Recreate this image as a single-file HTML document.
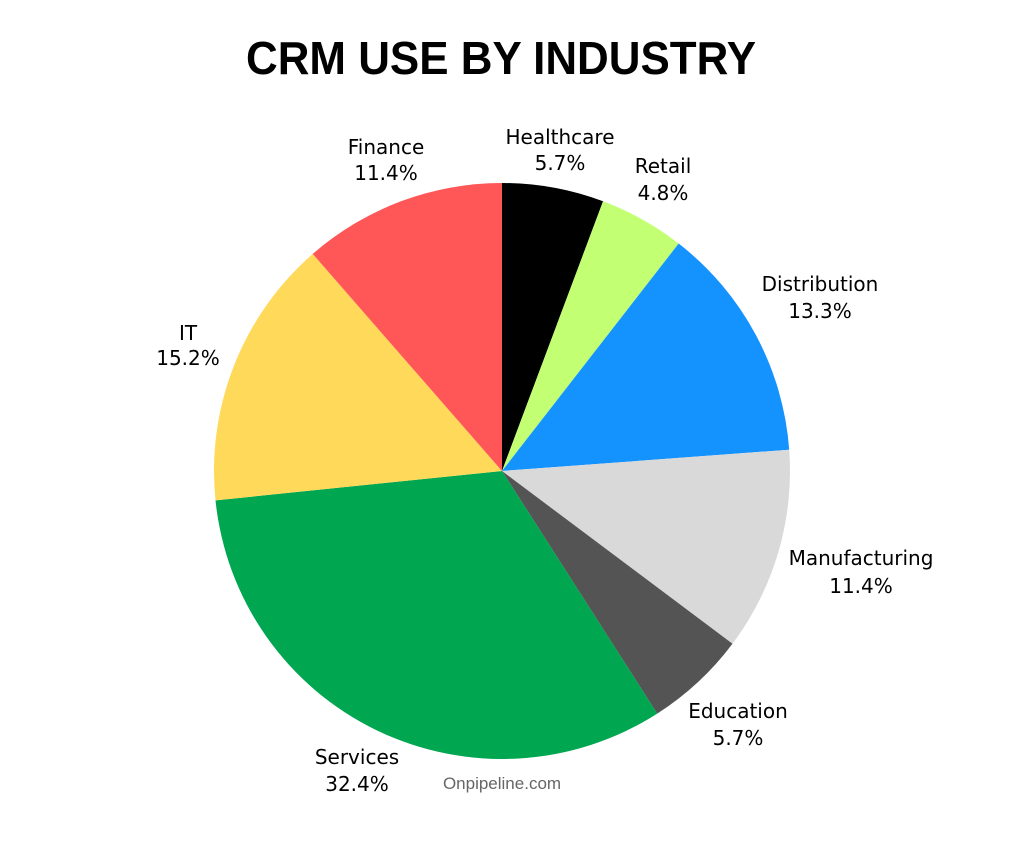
<!DOCTYPE html>
<html><head><meta charset="utf-8"><style>
html,body{margin:0;padding:0;background:#fff;}
svg{display:block;}
text{font-family:"DejaVu Sans","Liberation Sans",sans-serif;}
</style></head><body>
<svg id="s" width="1024" height="853" viewBox="0 0 1024 853">
<rect width="1024" height="853" fill="#fff"/>
<text x="501" y="74" text-anchor="middle" font-family="Liberation Sans, sans-serif" font-weight="bold" font-size="46" textLength="510" lengthAdjust="spacingAndGlyphs" style="font-family:'Liberation Sans',sans-serif">CRM USE BY INDUSTRY</text>
<g id="pie"></g>
<g font-size="20" fill="#000" text-anchor="middle">
<text x="386" y="154">Finance</text><text x="386" y="180">11.4%</text>
<text x="560" y="144">Healthcare</text><text x="560" y="170">5.7%</text>
<text x="663" y="173">Retail</text><text x="663" y="200">4.8%</text>
<text x="820" y="291">Distribution</text><text x="820" y="318">13.3%</text>
<text x="861" y="565">Manufacturing</text><text x="861" y="593">11.4%</text>
<text x="738" y="718">Education</text><text x="738" y="745">5.7%</text>
<text x="357" y="764">Services</text><text x="357" y="791">32.4%</text>
<text x="188" y="340">IT</text><text x="188" y="365">15.2%</text>
</g>
<text x="502" y="789" text-anchor="middle" font-size="17" fill="#666" style="font-family:'Liberation Sans',sans-serif">Onpipeline.com</text>
</svg>
<script>
var d=[[5.7,"#000"],[4.8,"#c2ff73"],[13.3,"#1493ff"],[11.4,"#d9d9d9"],[5.7,"#545454"],[32.4,"#00a650"],[15.2,"#ffd95a"],[11.4,"#ff5757"]];
var cx=502,cy=471,r=288,a=0,h="";
var tot=0;d.forEach(function(e){tot+=e[0]});
d.forEach(function(e){var b=a+e[0]/tot*2*Math.PI;
var x1=cx+r*Math.sin(a),y1=cy-r*Math.cos(a),x2=cx+r*Math.sin(b),y2=cy-r*Math.cos(b);
h+='<path d="M'+cx+' '+cy+'L'+x1+' '+y1+'A'+r+' '+r+' 0 '+((b-a)>Math.PI?1:0)+' 1 '+x2+' '+y2+'Z" fill="'+e[1]+'"/>';a=b;});
document.getElementById("pie").innerHTML=h;
</script>
</body></html>
